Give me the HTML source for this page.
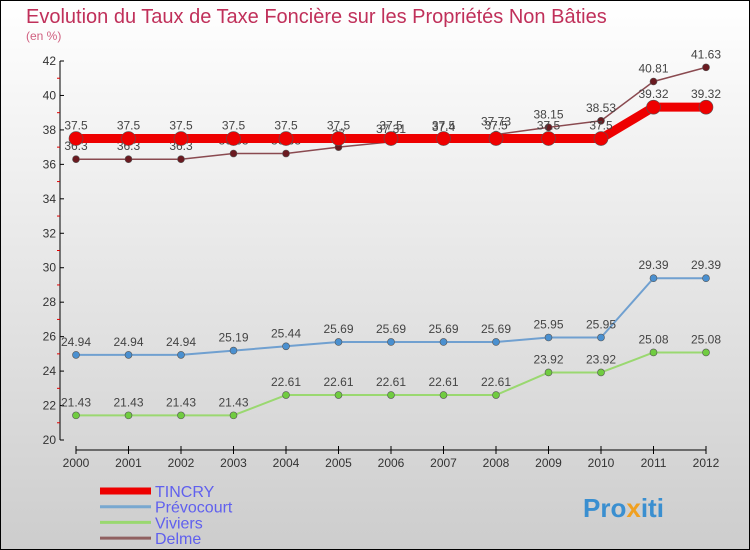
<!DOCTYPE html>
<html><head><meta charset="utf-8"><style>
body{margin:0}
svg{display:block;font-family:"Liberation Sans","DejaVu Sans",sans-serif}
</style></head><body>
<svg id="c" width="750" height="550" viewBox="0 0 750 550">
<defs><linearGradient id="bg" x1="0" y1="0" x2="0" y2="1"><stop offset="0" stop-color="#ffffff"/><stop offset="1" stop-color="#cdcdcd"/></linearGradient></defs>
<rect x="0.5" y="0.5" width="749" height="549" fill="url(#bg)" stroke="#000"/>
<text x="26" y="23" font-size="20" fill="#c0305a">Evolution du Taux de Taxe Foncière sur les Propriétés Non Bâties</text>
<text x="26" y="40" font-size="12" fill="#d06080">(en %)</text>
<g id="axes"></g><g id="series"></g><g id="legend"></g>
<text x="583" y="517" font-size="26" font-weight="bold" fill="#3a8fd0">Pro<tspan fill="#f0a020">x</tspan><tspan fill="#3a8fd0">iti</tspan></text>
</svg>
<script>
const years=["2000","2001","2002","2003","2004","2005","2006","2007","2008","2009","2010","2011","2012"];
const yTicks=[20,22,24,26,28,30,32,34,36,38,40,42];
const tincry=[37.5,37.5,37.5,37.5,37.5,37.5,37.5,37.5,37.5,37.5,37.5,39.32,39.32];
const prevocourt=[24.94,24.94,24.94,25.19,25.44,25.69,25.69,25.69,25.69,25.95,25.95,29.39,29.39];
const viviers=[21.43,21.43,21.43,21.43,22.61,22.61,22.61,22.61,22.61,23.92,23.92,25.08,25.08];
const delme=[36.3,36.3,36.3,36.63,36.63,37,37.31,37.4,37.73,38.15,38.53,40.81,41.63];
const seriesNames=["TINCRY","Prévocourt","Viviers","Delme"];
const NS="http://www.w3.org/2000/svg";
const X=i=>76+i*52.5;
const Y=v=>440-(v-20)*(379/22);
function mk(tag,attrs,parent,txt){const e=document.createElementNS(NS,tag);for(const k in attrs)e.setAttribute(k,attrs[k]);if(txt!==undefined)e.textContent=txt;parent.appendChild(e);return e;}
const ax=document.getElementById('axes');
let l=mk('line',{x1:60,y1:Y(42),x2:60,y2:440,stroke:'#000'},ax);


l=mk('line',{x1:76,y1:450,x2:706,y2:450,stroke:'#000'},ax);


yTicks.forEach(v=>{
  mk('line',{x1:60,y1:Y(v),x2:64,y2:Y(v),stroke:'#000'},ax);
  if(v<42) mk('line',{x1:57,y1:Y(v+1),x2:60,y2:Y(v+1),stroke:'#e00000'},ax);
  const t=mk('text',{x:56,y:Y(v)+4,'font-size':12,fill:'#333','text-anchor':'end'},ax,String(v));
  
  
});
years.forEach((y,i)=>{
  mk('line',{x1:X(i),y1:446,x2:X(i),y2:454,stroke:'#000'},ax);
  const t=mk('text',{x:X(i),y:467,'font-size':12,fill:'#333','text-anchor':'middle'},ax,y);
  
  
});
const sg=document.getElementById('series');
function draw(vals,color,width,r,fill,name){
  const g=mk('g',{},sg);
  
  
  const p=mk('polyline',{points:vals.map((v,i)=>X(i)+','+Y(v)).join(' '),fill:'none',stroke:color,'stroke-width':width,'stroke-linejoin':'round'},g);
  
  
  vals.forEach((v,i)=>{
    const c=mk('circle',{cx:X(i),cy:Y(v),r:r,fill:fill,stroke:'#555','stroke-width':0.6},g);
    
    
    const t=mk('text',{x:X(i),y:Y(v)-9,'font-size':12,fill:'#444','text-anchor':'middle'},g,String(v));
    
    
  });
}
draw(viviers,'#9ad870',2,3.5,'#70cc40','viviers');
draw(prevocourt,'#70a0d0',2,3.5,'#4a90d0','prevocourt');
draw(delme,'#8a4a50',1.5,3.5,'#6a1a20','delme');
draw(tincry,'#ee0000',9,7,'#ee0000','tincry');
const lg=document.getElementById('legend');
const lcol=['#ee0000','#78a8d0','#9ad870','#906060'];
const lw=[7,3,3,3];
seriesNames.forEach((n,i)=>{
  const y=491+i*15.7;
  const ln=mk('line',{x1:100,y1:y,x2:151,y2:y,stroke:lcol[i],'stroke-width':lw[i]},lg);
  
  
  const t=mk('text',{x:155,y:y+6,'font-size':16,fill:'#6060ee'},lg,n);
  
  
});
</script>
</body></html>
